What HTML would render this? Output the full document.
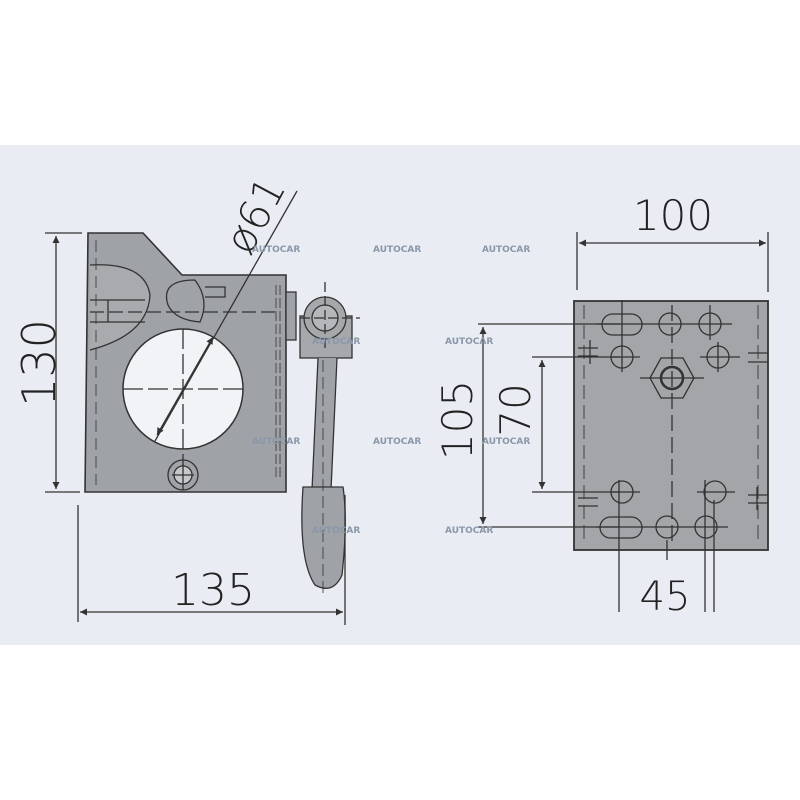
<!DOCTYPE html>
<html><head><meta charset="utf-8"><style>
html,body{margin:0;padding:0;background:#fff;}
svg{display:block;}
text{font-family:"DejaVu Sans","Liberation Sans",sans-serif;}
.d{font-weight:200;fill:#222;}
.w{font-family:"Liberation Sans",sans-serif;font-weight:bold;font-size:9px;fill:#8a97aa;}
</style></head><body>
<svg width="800" height="800" viewBox="0 0 800 800" xmlns="http://www.w3.org/2000/svg">
<defs>
<marker id="a" viewBox="0 0 10 10" refX="10" refY="5" markerWidth="20" markerHeight="7" orient="auto-start-reverse" markerUnits="userSpaceOnUse"><path d="M0,0 L10,5 L0,10z" fill="#333"/></marker>
</defs>
<rect x="0" y="0" width="800" height="800" fill="#fff"/>
<rect x="0" y="145" width="800" height="500" fill="#e9edf3"/>
<g stroke="#333" stroke-width="1.3" fill="none">
<path d="M88,233 L143,233 L182,275 L286,275 L286,492 L85,492 Z" fill="#9fa2a7" stroke-width="1.6"/>
<path d="M90,265 Q145,262 150,295 Q148,335 90,350" fill="#a8aaae"/>
<path d="M90,300 L145,300 M90,322 L145,322 M108,300 L108,322"/>
<path d="M195,280 Q160,280 168,305 Q175,320 200,322 Q210,300 195,280" />
<path d="M205,287 L225,287 L225,297 L205,297"/>
<path d="M90,312 L280,312" stroke-dasharray="14,5"/>
<circle cx="183" cy="389" r="60" fill="#f1f3f7" stroke-width="1.5"/>
<path d="M123,389 L243,389 M183,329 L183,465" stroke-dasharray="20,5"/>
<circle cx="183" cy="475" r="15"/>
<circle cx="183" cy="475" r="9" fill="#c5c7cb"/>
<path d="M172,475 L194,475 M183,464 L183,490"/>
<path d="M276,285 L276,480 M280,285 L280,480" stroke-dasharray="10,3" stroke-width="0.8"/>
<path d="M96,240 L96,485" stroke-dasharray="12,6" stroke-width="0.8"/>
<rect x="286" y="292" width="10" height="48" fill="#9fa2a7"/>
<rect x="300" y="316" width="52" height="42" fill="#a6a8ac"/>
<circle cx="325" cy="318" r="21" fill="#a6a8ac"/>
<circle cx="325" cy="318" r="13" fill="#b5b7bb"/>
<path d="M300,318 L360,318 M325,282 L325,350" stroke-dasharray="10,4"/>
<path d="M318,358 L312,490 L331,490 L337,358" fill="#9fa2a7"/>
<path d="M303,487 Q298,560 315,585 Q333,595 342,575 Q348,520 343,487 Z" fill="#9fa2a7"/>
<path d="M323,360 L323,595" stroke-dasharray="12,5" stroke-width="0.8"/>
<path d="M45,233 L82,233 M45,492 L80,492"/>
<path d="M56,236 L56,489" marker-start="url(#a)" marker-end="url(#a)"/>
<path d="M78,505 L78,622 M345,495 L345,625"/>
<path d="M80,612 L343,612" marker-start="url(#a)" marker-end="url(#a)"/>
<path d="M297,191 L155,441"/>
<path d="M213,337 L157,435" marker-start="url(#a)" marker-end="url(#a)"/>
<rect x="574" y="301" width="194" height="249" fill="#a3a5a9" stroke-width="1.8"/>
<path d="M584,305 L584,545 M758,305 L758,545" stroke-dasharray="14,6" stroke-width="0.9"/>
<path d="M672,305 L672,545" stroke-dasharray="16,6"/>
<rect x="602" y="314" width="40" height="21" rx="10.5"/>
<circle cx="670" cy="324" r="11"/><circle cx="710" cy="324" r="11"/>
<circle cx="622" cy="357" r="11"/><circle cx="718" cy="357" r="11"/>
<circle cx="622" cy="492" r="11"/><circle cx="715" cy="492" r="11"/>
<rect x="600" y="517" width="42" height="21" rx="10.5"/>
<circle cx="667" cy="527" r="11"/><circle cx="706" cy="527" r="11"/>
<polygon points="650,378 661,358 683,358 694,378 683,398 661,398"/>
<circle cx="672" cy="378" r="11" stroke-width="2.5"/>
<path d="M640,378 L704,378"/>
<path d="M596,324 L732,324 M610,357 L640,357 M700,357 L740,357 M610,492 L640,492 M697,492 L735,492 M596,527 L728,527"/>
<path d="M622,300 L622,372 M710,305 L710,340 M718,342 L718,372"/>
<path d="M578,348 L598,348 M578,356 L598,356 M590,340 L590,364 M748,353 L768,353 M748,362 L768,362"/>
<path d="M578,498 L598,498 M578,506 L598,506 M748,495 L768,495 M748,503 L768,503 M757,487 L757,510"/>
<path d="M577,232 L577,290 M768,232 L768,292"/>
<path d="M579,243 L766,243" marker-start="url(#a)" marker-end="url(#a)"/>
<path d="M478,324 L620,324 M478,527 L620,527"/>
<path d="M483,327 L483,524" marker-start="url(#a)" marker-end="url(#a)"/>
<path d="M532,357 L620,357 M532,492 L620,492"/>
<path d="M542,360 L542,489" marker-start="url(#a)" marker-end="url(#a)"/>
<path d="M619,480 L619,612 M705,480 L705,612 M714,500 L714,612 M667,540 L667,560"/>
</g>
<text class="d" font-size="46" transform="translate(55,363) rotate(-90)" text-anchor="middle">130</text>
<text class="d" font-size="44" x="213" y="605" text-anchor="middle">135</text>
<text class="d" font-size="42" transform="translate(268,222) rotate(-62)" text-anchor="middle">ø61</text>
<text class="d" font-size="42" x="673" y="230" text-anchor="middle">100</text>
<text class="d" font-size="42" transform="translate(472,420) rotate(-90)" text-anchor="middle">105</text>
<text class="d" font-size="42" transform="translate(530,410) rotate(-90)" text-anchor="middle">70</text>
<text class="d" font-size="40" x="665" y="610" text-anchor="middle">45</text>
<g class="w">
<text x="252" y="252">AUTOCAR</text><text x="373" y="252">AUTOCAR</text><text x="482" y="252">AUTOCAR</text>
<text x="312" y="344">AUTOCAR</text><text x="445" y="344">AUTOCAR</text>
<text x="252" y="444">AUTOCAR</text><text x="373" y="444">AUTOCAR</text><text x="482" y="444">AUTOCAR</text>
<text x="312" y="533">AUTOCAR</text><text x="445" y="533">AUTOCAR</text>
</g>
</svg>
</body></html>
